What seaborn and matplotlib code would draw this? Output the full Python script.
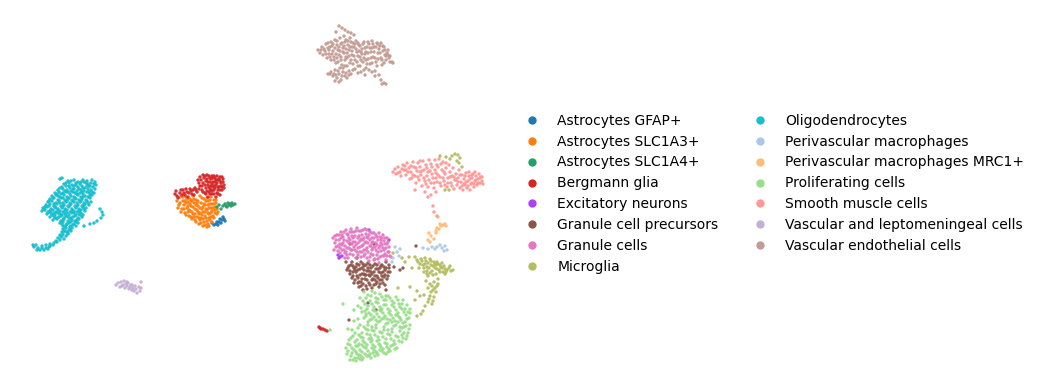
import pandas as pd
import matplotlib
matplotlib.use("Agg")
import matplotlib.pyplot as plt
import seaborn as sns

categories = ["Astrocytes GFAP+", "Astrocytes SLC1A3+", "Astrocytes SLC1A4+", "Bergmann glia",
              "Excitatory neurons", "Granule cell precursors", "Granule cells", "Microglia",
              "Oligodendrocytes", "Perivascular macrophages", "Perivascular macrophages MRC1+",
              "Proliferating cells", "Smooth muscle cells", "Vascular and leptomeningeal cells",
              "Vascular endothelial cells"]
colors = ["#1f77b4", "#ff7f0e", "#279e68", "#d62728", "#aa40fc", "#8c564b", "#e377c2", "#b5bd61",
          "#17becf", "#aec7e8", "#ffbb78", "#98df8a", "#ff9896", "#c5b0d5", "#c49c94"]

gfap = [(212,223),(214,225),(216,224),(218,225),(219,222),(221,223),(222,220),(224,219),(223,217),(220,219),(217,222),(225,221)]
slc1a3 = [(177,201),(179,205),(180,197),(182,209),(183,201),(184,205),(185,213),(186,197),(187,208),(188,202),(189,216),(190,199),
(190,211),(191,206),(192,219),(193,196),(193,214),(194,203),(195,209),(196,222),(196,200),(197,217),(198,206),(198,212),(199,224),
(200,196),(200,220),(201,203),(202,209),(202,215),(203,226),(204,199),(204,222),(205,205),(205,212),(206,218),(207,227),(208,201),
(208,224),(209,208),(209,214),(210,220),(211,197),(212,204),(212,211),(213,216),(214,200),(215,207),(215,213),(216,203),(217,209),
(186,203),(188,212),(192,201),(194,217),(197,203),(199,214),(201,218),(203,207),(206,201),(207,210),(207,221),(210,204),(211,217),(213,208),(218,212),
(178,208),(180,203),(181,212),(183,197),(184,209),(185,201),(186,215),(187,199),(188,206),(189,210),(190,204),(191,217),(191,201),(192,212),(193,207),
(194,199),(195,220),(195,214),(196,205),(197,210),(198,201),(199,218),(200,208),(200,213),(201,223),(202,198),(203,212),(203,219),(204,204),(205,216),
(205,225),(206,209),(207,198),(208,213),(208,205),(209,218),(209,226),(210,200),(211,208),(211,213),(212,222),(214,204),(214,218),(215,210),(216,200),(217,214)]
slc1a4 = [(217,207),(219,205),(221,209),(223,206),(225,204),(226,206),(228,203),(229,205),(230,204),(231,206),(232,203),(233,205),(235,204),(227,207)]
bergmann = [(175,194),(178,198),(180,193),(183,190),(185,195),(187,192),(190,189),(192,194),(195,188),(197,192),(200,186),(198,180),
(200,177),(203,183),(204,178),(206,188),(207,175),(208,182),(209,192),(210,178),(211,186),(212,176),(213,182),(214,190),(215,178),
(216,185),(217,193),(218,180),(219,187),(220,177),(221,183),(222,190),(223,179),(224,185),(202,190),(205,193),(208,197),(212,194),
(216,197),(220,195),(203,175),(209,187),(214,186),(218,190),(222,187),(206,181),(211,190),(213,178),(176,191),(182,195),(188,197),
(319,327),(321,329),(323,329),(325,330),(327,331),(320,328),
(177,196),(181,190),(184,193),(186,189),(189,193),(191,191),(193,190),(194,195),(196,190),(199,183),(199,189),(201,180),(202,186),(203,192),(205,176),
(205,185),(207,179),(207,191),(208,185),(209,176),(210,182),(210,189),(211,179),(212,184),(212,191),(213,187),(214,176),(215,182),(215,188),(216,180),
(217,176),(217,183),(218,187),(219,179),(220,181),(220,190),(221,186),(222,177),(223,182),(224,188),(210,194),(206,194),(214,194),(218,194)]
excitatory = [(338,255),(340,257),(342,256),(339,258),(389,240),(369,230)]
gran_prec = [(347,270),(349,266),(350,274),(352,262),(352,278),(354,268),(354,283),(356,272),(357,264),(358,278),(359,287),(360,269),
(361,282),(362,274),(363,290),(364,266),(365,279),(366,286),(367,271),(368,263),(369,283),(370,276),(371,268),(372,288),(373,279),
(374,272),(375,264),(376,284),(377,276),(378,269),(379,287),(380,280),(381,273),(382,265),(383,283),(384,277),(385,270),(386,262),
(387,279),(388,272),(389,265),(357,258),(346,262),(361,262),(366,275),(372,274),(377,282),(382,276),(353,272),(358,283),(364,274),
(369,271),(375,280),(380,268),(389,268),(394,267),(400,270),(403,268),(386,290),(374,244),(350,244),(416,246),(376,310),(349,320),(368,303),
(348,268),(350,271),(351,265),(353,276),(353,266),(355,270),(355,280),(356,267),(357,276),(358,270),(359,265),(359,282),(360,275),(361,286),(362,268),
(362,279),(363,264),(363,284),(364,270),(365,275),(366,265),(367,280),(367,289),(368,268),(369,275),(370,285),(370,265),(371,272),(372,280),(373,266),
(374,285),(375,276),(376,269),(377,265),(378,278),(379,272),(380,284),(381,266),(382,280),(383,272),(384,267),(385,285),(385,275),(386,268),(388,276),(390,272)]
granule = [(333,238),(335,243),(334,250),(337,235),(338,246),(339,240),(340,253),(341,232),(342,245),(343,237),(344,250),(345,258),
(346,230),(347,241),(348,235),(349,248),(350,254),(351,229),(352,244),(353,238),(354,232),(355,250),(356,258),(357,228),(358,243),
(359,236),(360,252),(361,231),(362,246),(363,240),(364,256),(365,229),(366,234),(367,248),(368,243),(369,261),(370,232),(371,254),
(372,238),(373,248),(374,233),(375,259),(376,243),(377,237),(378,252),(379,263),(380,246),(381,240),(382,256),(383,235),(384,250),
(385,244),(386,260),(387,238),(388,252),(389,247),(390,256),(391,257),(340,248),(343,243),(346,252),(349,238),(352,250),(355,242),
(358,255),(361,239),(364,250),(367,237),(370,246),(373,255),(376,250),(379,233),(382,245),(385,254),(347,255),(358,248),(366,242),(372,243),(380,257),(352,232),
(335,236),(336,240),(336,247),(338,251),(339,235),(340,244),(341,238),(342,250),(342,235),(344,240),(344,232),(345,246),(345,253),(347,234),(347,248),
(348,258),(349,243),(350,232),(350,240),(351,250),(352,236),(353,255),(353,242),(354,247),(355,236),(356,231),(356,245),(357,252),(358,238),(359,231),
(360,247),(360,241),(361,257),(362,235),(362,252),(363,230),(363,245),(364,238),(365,243),(365,254),(366,250),(367,230),(367,258),(368,238),(368,252),
(369,235),(370,240),(370,257),(371,246),(372,233),(372,250),(373,242),(374,238),(374,260),(375,247),(376,235),(377,255),(377,245),(378,240),(378,259),
(379,248),(380,237),(381,251),(381,243),(382,238),(383,248),(384,241),(384,256),(385,238),(386,248),(387,244),(387,256),(388,242),(389,252)]
microglia = [(415,257),(418,262),(419,268),(421,259),(423,265),(424,272),(426,261),(427,267),(428,276),(430,259),(431,265),(432,271),
(434,262),(435,268),(436,274),(438,264),(439,270),(441,267),(443,272),(445,269),(447,270),(449,268),(451,271),(453,270),(445,274),(450,266),
(426,281),(430,284),(434,282),(437,286),(428,288),(433,290),(436,292),(430,296),(434,297),(428,302),(432,304),(425,306),(423,311),(421,314),(417,316),
(405,262),(409,257),(412,268),(402,258),(393,253),(398,288),(410,287),(417,291),(420,296),(415,300),(450,159),(452,156),(455,154),(458,155),(460,158),(457,161),(446,157),(459,163),(462,167),(440,156),(449,190),(445,190),(424,295),
(438,279),(427,274),(436,265),(442,263),
(417,260),(420,264),(422,261),(424,268),(425,258),(425,264),(427,271),(428,263),(429,268),(430,273),(431,261),(433,266),(433,275),(435,264),(437,269),(437,262),(440,265),(440,272),(442,268),(444,266),(446,272),(432,286),(435,288),(431,292),(429,299),(433,301),(438,284)]
oligo = [(68,181),(74,180),(78,182),(83,180),(87,181),(92,180),(64,184),(69,183),(72,185),(76,183),(80,184),(84,182),(88,184),(91,183),(95,182),
(62,187),(66,186),(70,188),(74,186),(78,187),(82,186),(85,188),(89,186),(93,187),(96,185),(58,190),(63,189),(67,190),(71,191),(74,189),(77,191),(81,190),(84,191),(88,189),(91,190),(95,189),
(55,193),(59,192),(63,193),(66,192),(70,194),(73,192),(77,194),(80,193),(83,194),(87,192),(90,194),(94,193),(52,196),(56,195),(60,197),(64,195),(67,197),(71,196),(74,197),(78,195),(81,197),(85,196),(88,197),(92,195),
(50,199),(54,198),(58,200),(61,198),(65,200),(68,199),(72,200),(75,198),(79,200),(82,199),(86,200),(90,198),(48,202),(52,201),(56,203),(59,201),(63,203),(66,202),(70,203),(73,201),(77,203),(80,202),(84,203),(87,201),(91,202),
(46,205),(50,204),(54,206),(57,204),(61,206),(64,205),(68,206),(71,204),(75,206),(78,205),(82,206),(85,204),(89,205),(43,208),(47,207),(51,209),(55,207),(58,209),(62,208),(65,209),(69,207),(72,209),(76,208),(79,209),(83,207),(86,208),
(42,211),(45,210),(49,212),(53,210),(56,212),(60,211),(63,212),(67,210),(70,212),(74,211),(77,212),(81,210),(85,211),(47,214),(51,213),(55,215),(58,213),(62,215),(65,214),(69,215),(72,213),(76,215),(79,214),(83,215),
(50,217),(54,216),(57,218),(61,216),(64,218),(68,217),(71,218),(75,216),(78,218),(82,217),(53,220),(57,219),(61,221),(64,219),(68,221),(72,220),(75,221),(79,219),(60,223),(63,222),(67,224),(71,222),(74,224),(78,223),
(63,226),(66,225),(70,227),(73,225),(76,226),(63,229),(66,228),(69,230),(72,228),(62,232),(65,231),(68,233),(71,231),(60,235),(63,234),(66,236),(68,234),(58,238),(61,237),(64,239),(56,241),(60,240),(50,244),(54,243),(57,242),
(42,246),(46,245),(50,246),(53,245),(34,247),(38,248),(42,248),(46,248),(49,247),(33,245),(36,245),(37,250),(40,250),(44,250),(48,249),(100,209),(102,212),(103,215),(101,218),(97,221),(94,223),(90,224),(60,179),(62,178),(84,226),
(66,183),(71,181),(76,185),(81,182),(86,183),(90,186),(94,184),(60,188),(65,191),(69,186),(73,189),(79,189),(83,188),(87,186),(92,192),(57,194),(61,194),(68,192),(75,193),(82,192),(89,192),(53,198),(58,196),(63,198),(69,198),(76,199),(83,197),(90,196),
(49,201),(54,204),(60,203),(67,201),(74,202),(81,201),(88,203),(45,207),(49,206),(56,208),(63,206),(70,205),(77,206),(84,205),(44,209),(50,211),(58,211),(65,211),(72,211),(79,211),(84,209),(48,212),(54,213),(60,214),(67,213),(74,213),(81,213),
(52,215),(59,217),(66,216),(73,217),(80,215),(55,218),(63,220),(70,219),(77,220),(62,224),(69,223),(76,222),(65,227),(71,226),(64,231),(70,229),(62,236),(67,232)]
peri_macro = [(432,247),(435,249),(437,247),(440,245),(442,248),(445,246),(447,250),(444,251),(395,247),(397,252),(399,256),(393,258),(400,249),(423,248),(428,249),(392,262)]
peri_mrc1 = [(428,240),(431,236),(430,242),(434,239),(436,231),(437,228),(439,229),(441,226),(443,225),(445,224),(440,224),(436,233),(438,217),(429,233),(446,226)]
prolif = [(364,292),(368,295),(372,291),(376,298),(380,294),(384,300),(388,296),(392,301),(396,297),(399,304),(403,300),(407,305),(410,309),
(360,298),(365,304),(370,301),(374,307),(378,303),(382,309),(386,305),(390,311),(394,307),(398,313),(402,309),(406,315),(410,313),
(358,306),(362,312),(367,309),(371,315),(375,311),(379,317),(383,313),(387,319),(391,315),(395,321),(399,317),(403,323),(407,319),(410,325),
(364,318),(368,322),(372,319),(376,325),(380,321),(384,327),(388,323),(392,329),(396,325),(400,331),(404,327),(408,333),
(358,328),(362,333),(366,329),(370,335),(374,331),(378,337),(382,333),(386,339),(390,335),(394,341),(398,337),(402,342),(406,339),
(349,340),(353,336),(357,340),(361,337),(365,343),(369,339),(373,345),(377,341),(381,347),(385,343),(389,349),(393,345),(397,348),
(346,348),(350,345),(354,350),(358,346),(362,352),(366,348),(370,354),(374,350),(378,355),(382,351),(386,354),(390,351),
(347,354),(351,356),(355,358),(359,355),(363,358),(367,356),(371,358),(375,356),(350,360),(356,361),(360,359),
(354,321),(352,330),(348,329),(343,304),(354,310),(358,319),(368,330),(376,320),(384,318),(392,322),(400,318),(372,340),(380,345),(388,330),(362,345),(356,352),(330,330),(402,335),(396,315),(380,310),(386,296),(366,314),(372,327),
(366,298),(371,296),(375,293),(378,299),(382,297),(386,300),(390,298),(394,303),(398,300),(402,304),(405,309),(408,312),(363,301),(368,306),(372,304),(376,302),(380,307),(384,305),(388,309),(392,305),(396,310),(400,307),(404,312),
(361,308),(365,311),(369,313),(373,310),(377,314),(381,311),(385,316),(389,313),(393,318),(397,315),(401,320),(405,322),(409,318),(366,316),(370,320),(374,317),(378,322),(382,319),(386,324),(390,320),(394,326),(398,322),(402,328),(406,326),(409,329),
(360,325),(364,327),(368,325),(372,330),(376,328),(380,332),(384,330),(388,334),(392,332),(396,336),(400,327),(404,333),(407,336),(355,333),(359,335),(363,338),(367,334),(371,338),(375,335),(379,340),(383,337),(387,344),(391,339),(395,344),(399,341),(403,338),
(351,338),(355,342),(359,344),(363,341),(367,345),(371,342),(375,347),(379,344),(383,349),(387,347),(391,346),(395,349),(348,344),(352,348),(356,346),(360,350),(364,347),(368,351),(372,348),(376,352),(380,350),(384,353),(388,352),(348,351),(352,353),(357,354),(361,356),(365,354),(369,356),(373,353),(377,353),(353,360),(358,358),(362,360)]
smooth = [(393,172),(395,169),(396,174),(398,167),(400,172),(401,176),(403,165),(404,170),(406,175),(407,163),(409,168),(410,179),(411,172),
(413,162),(414,167),(415,176),(416,183),(417,171),(418,163),(419,180),(420,167),(421,175),(422,186),(423,161),(424,170),(425,181),(426,165),
(427,176),(428,187),(429,160),(430,171),(431,183),(432,167),(433,178),(434,188),(435,160),(436,173),(437,182),(438,167),(439,159),(440,177),
(441,186),(442,170),(443,162),(444,181),(445,174),(446,168),(447,187),(448,178),(449,165),(450,172),(451,183),(452,176),(453,168),(454,189),
(455,180),(456,174),(457,185),(458,178),(459,170),(460,188),(461,182),(462,175),(463,190),(464,179),(465,185),(466,173),(467,188),(468,181),
(469,176),(470,190),(471,184),(472,178),(473,174),(474,187),(475,181),(476,176),(477,185),(478,179),(479,174),(480,183),(481,177),(482,181),(483,184),
(415,190),(425,192),(428,197),(431,195),(436,192),(433,206),(434,212),(437,216),(406,170),(412,178),(420,172),(428,172),(436,178),(444,172),(456,180),(464,184),(472,183),
(398,173),(402,169),(405,166),(408,172),(411,166),(413,175),(416,168),(418,177),(420,161),(422,171),(424,178),(426,184),(427,168),(429,180),(431,164),(432,174),(434,183),
(435,170),(437,165),(438,175),(440,183),(441,164),(443,178),(445,185),(446,163),(448,183),(450,177),(452,186),(454,177),(458,182),(460,175),(462,186),(465,176),(466,182),
(468,186),(470,179),(472,175),(474,184),(476,180),(478,183),(480,178),(482,177),(469,172),(475,172)]
vlmc = [(116,285),(118,283),(120,287),(121,282),(123,285),(124,281),(125,288),(126,284),(127,286),(128,283),(129,289),(130,287),(131,285),
(132,290),(133,288),(134,291),(135,286),(136,289),(137,293),(139,287),(140,291),(141,282),(141,288),(122,286),(127,282),(132,285)]
endothelial = [(339,26),(342,28),(345,30),(348,32),(351,33),(354,35),(336,32),(344,36),(350,38),
(320,53),(318,50),(322,47),(323,55),(325,51),(326,44),(327,58),(328,48),(329,54),(331,42),(331,60),(332,46),(333,51),(334,57),(335,40),(336,63),(337,45),
(338,50),(339,55),(340,38),(341,60),(342,43),(343,48),(344,53),(345,66),(346,40),(347,58),(348,45),(349,50),(350,63),(351,42),(352,55),(353,70),(354,47),
(355,60),(356,41),(357,52),(358,66),(359,45),(360,57),(361,72),(362,49),(363,62),(364,42),(365,54),(366,68),(367,47),(368,59),(369,44),(370,64),(371,52),
(372,41),(373,57),(374,47),(375,71),(376,62),(377,43),(378,53),(379,49),(380,46),(381,58),(382,65),(383,51),(384,47),(385,55),(386,60),(387,53),(388,50),
(389,58),(390,62),(392,62),(393,63),(384,63),(378,44),(372,48),(366,60),(361,52),(352,47),(346,57),(337,58),(329,50),
(328,74),(331,72),(333,76),(335,70),(337,78),(339,74),(341,80),(343,72),(345,76),(347,78),(349,71),(351,74),(340,68),(335,81),(339,82),
(375,76),(379,75),(381,80),(384,83),(382,84),(386,84),(372,72),(365,75),(358,73),
(321,50),(324,49),(326,54),(328,43),(330,47),(330,57),(332,54),(333,44),(334,60),(335,48),(336,54),(337,41),(338,62),(339,47),(340,51),(341,44),(341,57),(342,65),(343,52),(344,46),
(345,42),(345,60),(346,49),(347,53),(347,66),(348,41),(349,56),(350,47),(351,60),(352,51),(353,43),(353,64),(354,56),(355,44),(355,69),(356,49),(357,62),(358,43),(358,56),(359,51),
(360,66),(360,46),(361,60),(362,54),(363,44),(364,58),(364,70),(365,48),(366,52),(367,64),(368,42),(368,53),(369,70),(370,48),(371,58),(372,63),(373,44),(374,52),(375,58),(376,47),
(377,66),(378,59),(380,53),(381,43),(382,60),(383,46),(385,50),(386,56),(388,55),(390,56),(330,74),(334,74),(338,71),(342,76),(346,73),(349,75),(343,68),(336,75)]

groups = [gfap, slc1a3, slc1a4, bergmann, excitatory, gran_prec, granule, microglia, oligo, peri_macro,
          peri_mrc1, prolif, smooth, vlmc, endothelial]
rows = [(p[0], p[1], c) for c, g in zip(categories, groups) for p in g]
df = pd.DataFrame(rows, columns=["UMAP1", "UMAP2", "cell_type"])

sns.set_style("white")
plt.rcParams["text.color"] = "black"
fig = plt.figure(figsize=(10.4, 3.89), dpi=100)
ax = fig.add_axes([0, 0, 500 / 1040, 1])
sns.scatterplot(data=df, x="UMAP1", y="UMAP2", hue="cell_type", hue_order=categories,
                palette=colors, s=6, linewidth=0, alpha=0.95, ax=ax)
ax.set_xlim(0, 500)
ax.set_ylim(389, 0)
ax.set_axis_off()
handles, labels = ax.get_legend_handles_labels()
leg = ax.legend(handles, labels, ncol=2, frameon=False, fontsize=10, loc="upper left",
                bbox_to_anchor=(513 / 1040, 1 - 108 / 389), bbox_transform=fig.transFigure, borderaxespad=0)
for h in leg.legend_handles:
    if hasattr(h, "set_markersize"):
        h.set_markersize(6)
    else:
        h.set_sizes([36])
    h.set_alpha(1)
for t in leg.get_texts():
    t.set_color("black")
fig.savefig("out.png", dpi=100)
